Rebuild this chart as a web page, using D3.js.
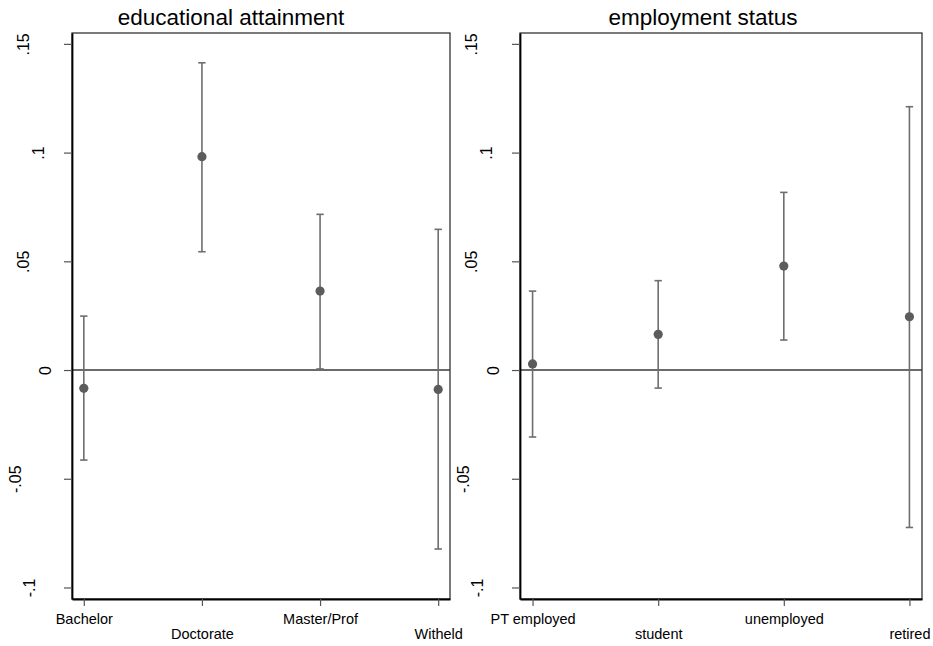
<!DOCTYPE html>
<html>
<head>
<meta charset="utf-8">
<script src="https://cdn.jsdelivr.net/npm/d3@7"></script>
<style>
  html, body { margin: 0; padding: 0; background: #ffffff; }
  svg { display: block; }
  text { font-family: "Liberation Sans", Arial, Helvetica, sans-serif; fill: #000; }
</style>
</head>
<body>
<svg id="chart" width="933" height="646"></svg>
<script>
// ---- data ----
const eduTitle = "educational attainment";
const eduCats = ["Bachelor", "Doctorate", "Master/Prof", "Witheld"];
const eduEst  = [-0.0084, 0.0981, 0.0363, -0.0089];
const eduLo   = [-0.0414, 0.0544, 0.0005, -0.0823];
const eduHi   = [ 0.0248, 0.1413, 0.0716,  0.0647];

const empTitle = "employment status";
const empCats = ["PT employed", "student", "unemployed", "retired"];
const empEst  = [ 0.0028, 0.0164, 0.0478,  0.0245];
const empLo   = [-0.0308, -0.0083, 0.0138, -0.0724];
const empHi   = [ 0.0363, 0.0411, 0.0817,  0.1211];

const yTicks = [-0.1, -0.05, 0, 0.05, 0.1, 0.15];
const yTickLabels = ["-.1", "-.05", "0", ".05", ".1", ".15"];

// ---- layout ----
const svg = d3.select("#chart");
const plotTop = 33, plotBottom = 599;
const panels = [
  { title: eduTitle, cats: eduCats, est: eduEst, lo: eduLo, hi: eduHi, x0: 72, x1: 450, titleX: 231 },
  { title: empTitle, cats: empCats, est: empEst, lo: empLo, hi: empHi, x0: 520, x1: 922, titleX: 703 }
];

const y = d3.scaleLinear().domain([-0.1053, 0.155]).range([plotBottom, plotTop]);

const barColor = "#6e6e6e";
const dotColor = "#5c5c5c";

panels.forEach(p => {
  const g = svg.append("g");
  const x = d3.scaleLinear().domain([0.9, 4.1]).range([p.x0, p.x1]);
  const data = p.cats.map((c, i) => ({ c, i: i + 1, est: p.est[i], lo: p.lo[i], hi: p.hi[i] }));

  // title
  g.append("text")
    .attr("x", p.titleX).attr("y", 25)
    .attr("text-anchor", "middle")
    .style("font-size", "22.5px")
    .text(p.title);

  // frame (top & right)
  g.append("rect")
    .attr("x", p.x0).attr("y", plotTop)
    .attr("width", p.x1 - p.x0).attr("height", plotBottom - plotTop)
    .attr("fill", "none").attr("stroke", "#222").attr("stroke-width", 1.2);

  // zero line
  g.append("line")
    .attr("x1", p.x0).attr("x2", p.x1)
    .attr("y1", y(0)).attr("y2", y(0))
    .attr("stroke", "#3a3a3a").attr("stroke-width", 1.6);

  // y axis
  const yAxis = d3.axisLeft(y)
    .tickValues(yTicks)
    .tickFormat((d, i) => yTickLabels[i])
    .tickSize(8).tickSizeOuter(0).tickPadding(0);
  const ya = g.append("g").attr("transform", `translate(${p.x0},0)`).call(yAxis);
  ya.select(".domain").attr("stroke", "#000").attr("stroke-width", 1.8);
  ya.selectAll(".tick line").attr("stroke", "#555").attr("stroke-width", 1.2);
  ya.selectAll(".tick text")
    .style("font-size", "16px")
    .attr("fill", "#000")
    .attr("text-anchor", "middle")
    .attr("dy", 0).attr("x", 0).attr("y", 0)
    .each(function () {
      const w = this.getComputedTextLength();
      const bx = -7 - 1.61 * w;
      d3.select(this).attr("transform", `translate(${bx},0) rotate(-90)`);
    });

  // x axis
  const xAxis = d3.axisBottom(x)
    .tickValues(data.map(d => d.i))
    .tickFormat((d, i) => p.cats[i])
    .tickSize(7).tickSizeOuter(0).tickPadding(0);
  const xa = g.append("g").attr("transform", `translate(0,${plotBottom})`).call(xAxis);
  xa.select(".domain").attr("stroke", "#000").attr("stroke-width", 1.8);
  xa.selectAll(".tick line").attr("stroke", "#555").attr("stroke-width", 1.2);
  xa.selectAll(".tick text")
    .style("font-size", "14.5px")
    .attr("fill", "#000")
    .attr("dy", 0)
    .attr("y", (d, i) => (i % 2 === 0 ? 25 : 40));

  // error bars
  const bars = g.append("g");
  bars.selectAll("line.v").data(data).join("line")
    .attr("class", "v")
    .attr("x1", d => x(d.i)).attr("x2", d => x(d.i))
    .attr("y1", d => y(d.lo)).attr("y2", d => y(d.hi))
    .attr("stroke", barColor).attr("stroke-width", 1.6);
  ["lo", "hi"].forEach(k => {
    bars.selectAll("line.c" + k).data(data).join("line")
      .attr("class", "c" + k)
      .attr("x1", d => x(d.i) - 3.7).attr("x2", d => x(d.i) + 3.7)
      .attr("y1", d => y(d[k])).attr("y2", d => y(d[k]))
      .attr("stroke", barColor).attr("stroke-width", 1.6);
  });

  // points
  g.append("g").selectAll("circle").data(data).join("circle")
    .attr("cx", d => x(d.i)).attr("cy", d => y(d.est))
    .attr("r", 4.6)
    .attr("fill", dotColor);
});
</script>
</body>
</html>
